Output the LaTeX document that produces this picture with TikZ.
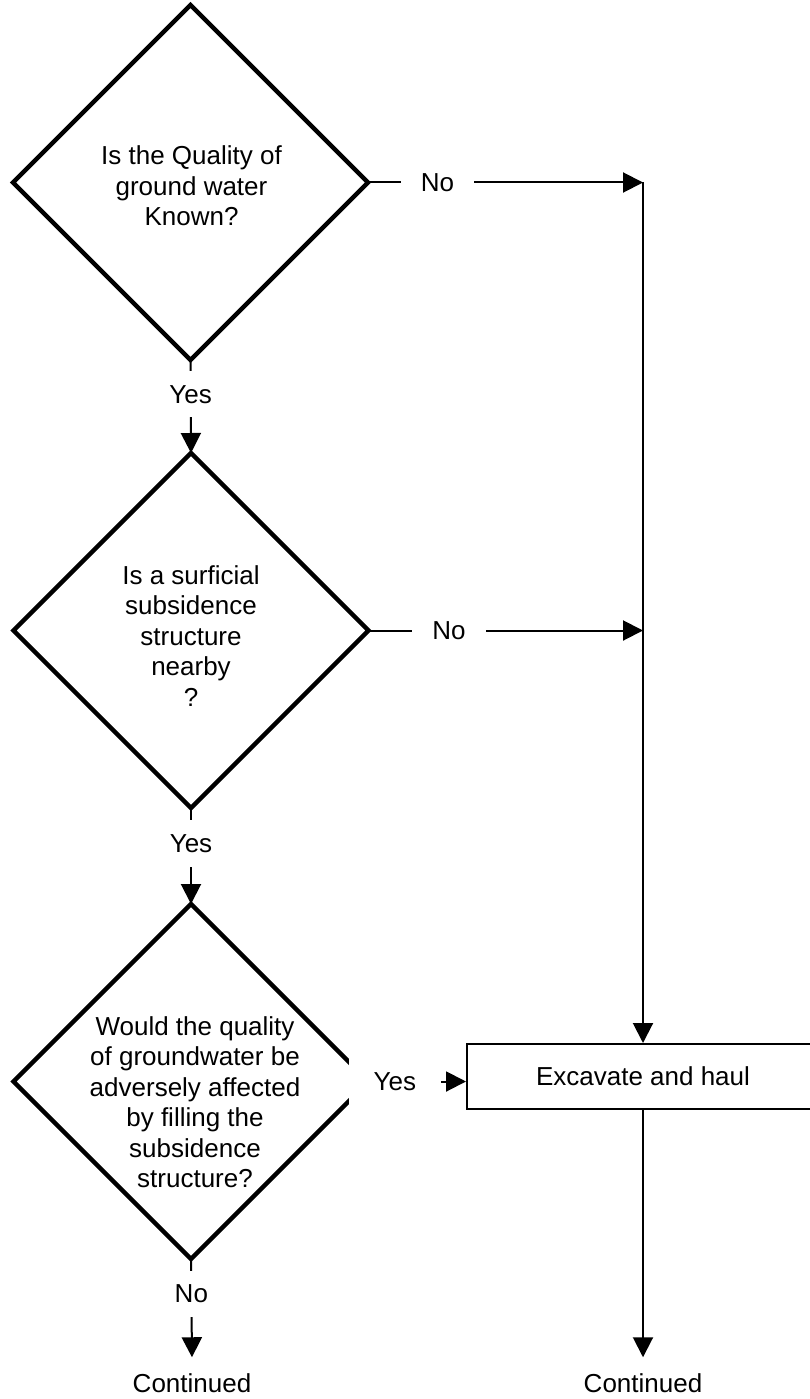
\documentclass[tikz,border=0pt]{standalone}
\usepackage{fontspec}
\setmainfont{Liberation Sans}
\usetikzlibrary{arrows.meta, positioning, shapes.geometric}

\tikzset{
  decision/.style={diamond, draw, line width=4.5pt, aspect=1,
       minimum width=355pt, minimum height=355pt, inner sep=0pt, outer sep=0pt},
  qtext/.style={align=center, font=\fontsize{26}{30.5}\selectfont},
  flowlbl/.style={fill=white, font=\fontsize{26}{30}\selectfont,
       inner xsep=20pt, inner ysep=14pt},
  actbox/.style={draw, line width=2pt, minimum width=352pt, minimum height=65pt,
       font=\fontsize{26}{30}\selectfont},
  endtxt/.style={font=\fontsize{26}{30}\selectfont, inner xsep=0pt, inner ysep=16pt},
  link/.style={-{Triangle[length=20pt,width=20pt]}, line width=2pt},
}

\begin{document}
\begin{tikzpicture}[x=1pt, y=-1pt]
  \useasboundingbox (0,0) rectangle (809,1399);

  % Decision 1 -- quality known
  \node[decision] (d1) at (190.5,182.5) {};
  \node[qtext] (q1) at (191.5,186) {Is the Quality of\\ground water\\Known?};

  % Decision 2 -- subsidence structure
  \node[decision] (d2) at (191,630.5) {};
  \node[qtext] (q2) at (191,636) {Is a surficial\\subsidence\\structure\\nearby\\?};

  % Decision 3 -- groundwater affected
  \node[decision] (d3) at (191,1081.5) {};
  \node[qtext] (q3) at (195,1102)
       {Would the quality\\of groundwater be\\adversely affected\\by filling the\\subsidence\\structure?};

  % Action and continuations
  \coordinate (j1) at (643,182.5);
  \coordinate (j2) at (643,630.5);
  \node[actbox] (haul) at (643,1076.5) {Excavate and haul};
  \node[endtxt] (cont1) at (192,1383) {Continued};
  \node[endtxt] (cont2) at (643,1383) {Continued};

  % No branches to the right
  \draw[link] (d1.east) -- node[flowlbl, pos=.253] (no1) {No} (j1);
  \draw[link] (d2.east) -- node[flowlbl, pos=.293] (no2) {No} (j2);
  \draw[link] (j1) -- (haul.north);

  % Yes branches down
  \draw[link] (d1.south) -- node[flowlbl, pos=.37] (yes1) {Yes} (d2.north);
  \draw[link] (d2.south) -- node[flowlbl, pos=.37] (yes2) {Yes} (d3.north);
  \draw[link] (d3.east) -- node[flowlbl, pos=.27, inner xsep=24.5pt, minimum height=50pt] (yes3) {Yes}
       (d3.east -| haul.west);

  % Exits
  \draw[link] (d3.south) -- node[flowlbl, pos=.355] (no3) {No} (cont1.north);
  \draw[link] (haul.south) -- (cont2.north);
\end{tikzpicture}
\end{document}
